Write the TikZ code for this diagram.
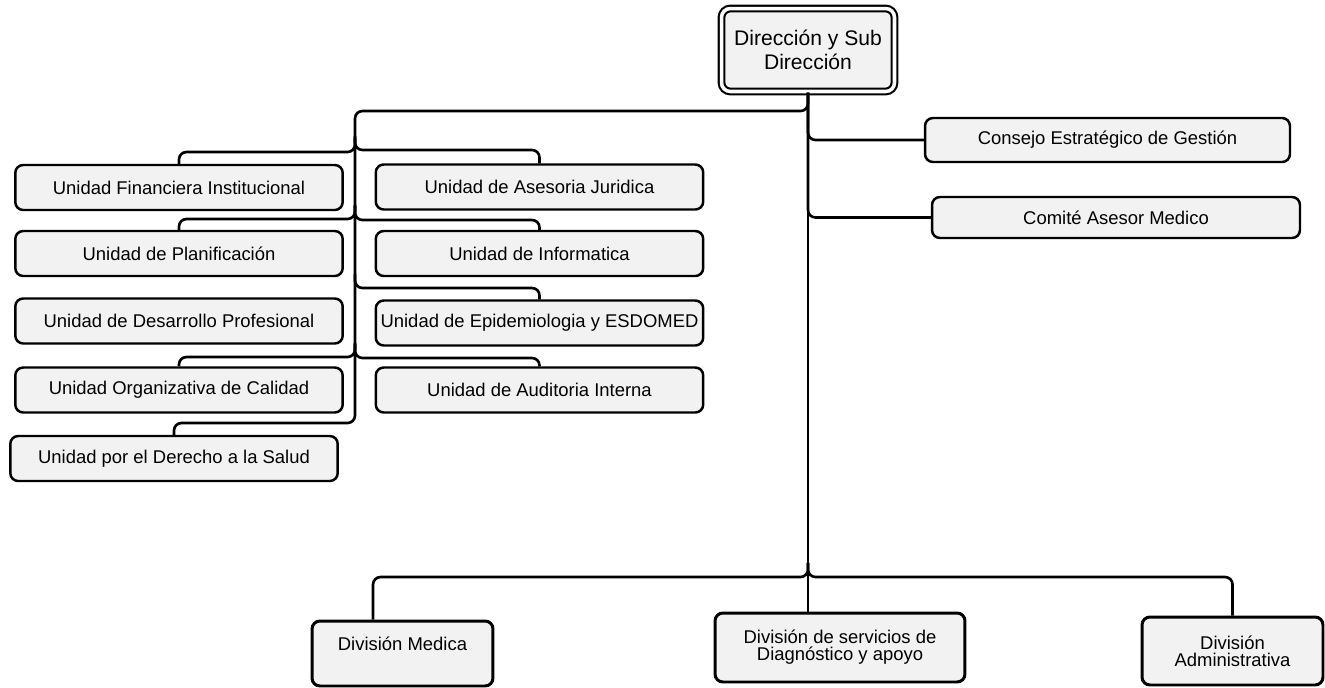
\documentclass[tikz,border=0pt]{standalone}
\usepackage{fontspec}
\setmainfont{Liberation Sans}
\definecolor{boxgray}{HTML}{F2F2F2}

\begin{document}
\begin{tikzpicture}[x=0.02cm,y=-0.02cm,
unit/.style={draw,fill=boxgray,line width=1.4pt,rounded corners=4.5pt,minimum width=6.55cm,minimum height=0.9cm,inner sep=1pt,font=\fontsize{10.5}{12.5}\selectfont},
head/.style={draw,double,fill=boxgray,line width=1.2pt,double distance=2pt,rounded corners=5pt,minimum width=3.46cm,minimum height=1.66cm,inner sep=1pt,align=center,font=\fontsize{12}{13.8}\selectfont},
division/.style={draw,fill=boxgray,line width=1.7pt,rounded corners=4.5pt,minimum width=3.62cm,inner sep=1pt,align=center,font=\fontsize{10.5}{9.8}\selectfont},
link/.style={line width=1.5pt,rounded corners=0.15cm} ]
\useasboundingbox (0,0) rectangle (1325,687);

\node[head] (dir) at (808,50) {Dirección y Sub\\Dirección};

\node[unit] (fin) at (179,187.5) {Unidad Financiera Institucional};
\node[unit] (plan) at (179,253.5) {Unidad de Planificación};
\node[unit] (desa) at (179,321) {Unidad de Desarrollo Profesional};
\node[unit] (orga) at (179,390) {Unidad Organizativa de Calidad};
\node[unit] (dere) at (174,458.5) {Unidad por el Derecho a la Salud};

\node[unit] (jur) at (539.5,187) {Unidad de Asesoria Juridica};
\node[unit] (inf) at (539.5,253.5) {Unidad de Informatica};
\node[unit] (epi) at (539.5,323) {Unidad de Epidemiologia y ESDOMED};
\node[unit] (aud) at (539.5,390) {Unidad de Auditoria Interna};

\node[unit,minimum width=7.3cm,minimum height=0.88cm] (cons) at (1107.5,140) {Consejo Estratégico de Gestión};
\node[unit,minimum width=7.36cm,minimum height=0.82cm] (comi) at (1116,217.5) {Comité Asesor Medico};

\node[division,minimum height=1.3cm,text height=7.5pt,text depth=11.3pt] (med) at (402.5,653.5) {División Medica};
\node[division,minimum width=5cm,minimum height=1.38cm] (diag) at (840,647.5) {División de servicios de\\Diagnóstico y apoyo};
\node[division,minimum height=1.36cm] (adm) at (1232.5,651) {División\\Administrativa};

\coordinate (ltop) at (355,111);
\coordinate (lend) at (355,423);
\coordinate (jb) at (808,577);

\draw[link] (dir.south) |- (ltop) -- (lend) -| (dere.north);
\draw[link] (dir.south) |- (cons.west);
\draw[link] (dir.south) |- (comi.west);
\draw[link] (dir.south) -- (dir.south |- diag.north);

\foreach \n/\yb in {fin/152,plan/219,orga/357}{
  \coordinate (j\n) at (355,\yb);
  \draw[link] ([yshift=8pt]j\n) -- (j\n) -| (\n.north);
}
\foreach \n/\yb in {jur/150,inf/220,epi/288,aud/358}{
  \coordinate (j\n) at (355,\yb);
  \draw[link] ([yshift=8pt]j\n) -- (j\n) -| (\n.north);
}

\draw[link] ([yshift=8pt]jb) -- (jb) -| ([xshift=-0.59cm]med.north);
\draw[link] ([yshift=8pt]jb) -- (jb) -| (adm.north);

\end{tikzpicture}
\end{document}
